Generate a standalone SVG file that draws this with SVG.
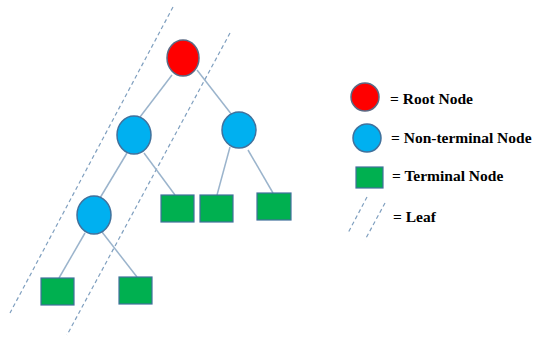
<svg xmlns="http://www.w3.org/2000/svg" width="534" height="340" viewBox="0 0 534 340">
<style>
.edge{stroke:#9bb4cc;stroke-width:1.5;fill:none}
.leaf{stroke:#7f9fbf;stroke-width:1.2;stroke-dasharray:4 3;fill:none}
.root{fill:#ff0000;stroke:#5a6a85;stroke-width:1.5}
.nt{fill:#00b0f0;stroke:#41719c;stroke-width:1.5}
.term{fill:#00b050;stroke:#41719c;stroke-width:1.2}
.lbl{font-family:"Liberation Serif",serif;font-weight:bold;font-size:15.5px;fill:#000}
</style>
<rect width="534" height="340" fill="#fff"/>
<g id="leaves">
<line class="leaf" x1="173" y1="7" x2="10" y2="313"/>
<line class="leaf" x1="230" y1="33" x2="67" y2="335"/>
</g>
<g id="connectors">
<line class="edge" x1="172" y1="75" x2="140" y2="117"/>
<line class="edge" x1="197" y1="70" x2="232" y2="115"/>
<line class="edge" x1="127" y1="153" x2="100" y2="198"/>
<line class="edge" x1="144" y1="153" x2="175" y2="195"/>
<line class="edge" x1="230" y1="147" x2="217" y2="195"/>
<line class="edge" x1="248" y1="150" x2="273" y2="193"/>
<line class="edge" x1="85" y1="233" x2="59" y2="278"/>
<line class="edge" x1="102" y1="232" x2="137" y2="277"/>
</g>
<g id="root"><ellipse class="root" cx="183" cy="58" rx="16" ry="18"/></g>
<g id="nt1"><ellipse class="nt" cx="134" cy="135" rx="17" ry="19"/></g>
<g id="nt2"><ellipse class="nt" cx="239" cy="130" rx="17" ry="18"/></g>
<g id="nt3"><ellipse class="nt" cx="94" cy="215" rx="17" ry="19"/></g>
<g id="t1"><rect class="term" x="161" y="195" width="33" height="27"/></g>
<g id="t2"><rect class="term" x="200" y="195" width="33" height="27"/></g>
<g id="t3"><rect class="term" x="257" y="193" width="34" height="27"/></g>
<g id="t4"><rect class="term" x="41" y="278" width="33" height="27"/></g>
<g id="t5"><rect class="term" x="119" y="277" width="33" height="27"/></g>
<g id="legend">
<circle class="root" cx="365" cy="97" r="14"/>
<text class="lbl" x="390" y="104">= Root Node</text>
<circle class="nt" cx="367" cy="138" r="14"/>
<text class="lbl" x="391" y="143">= Non-terminal Node</text>
<rect class="term" x="356" y="167" width="27" height="21"/>
<text class="lbl" x="392" y="181">= Terminal Node</text>
<line class="leaf" x1="367" y1="197" x2="348" y2="233"/>
<line class="leaf" x1="385" y1="203" x2="365" y2="240"/>
<text class="lbl" x="393" y="222">= Leaf</text>
</g>
</svg>
